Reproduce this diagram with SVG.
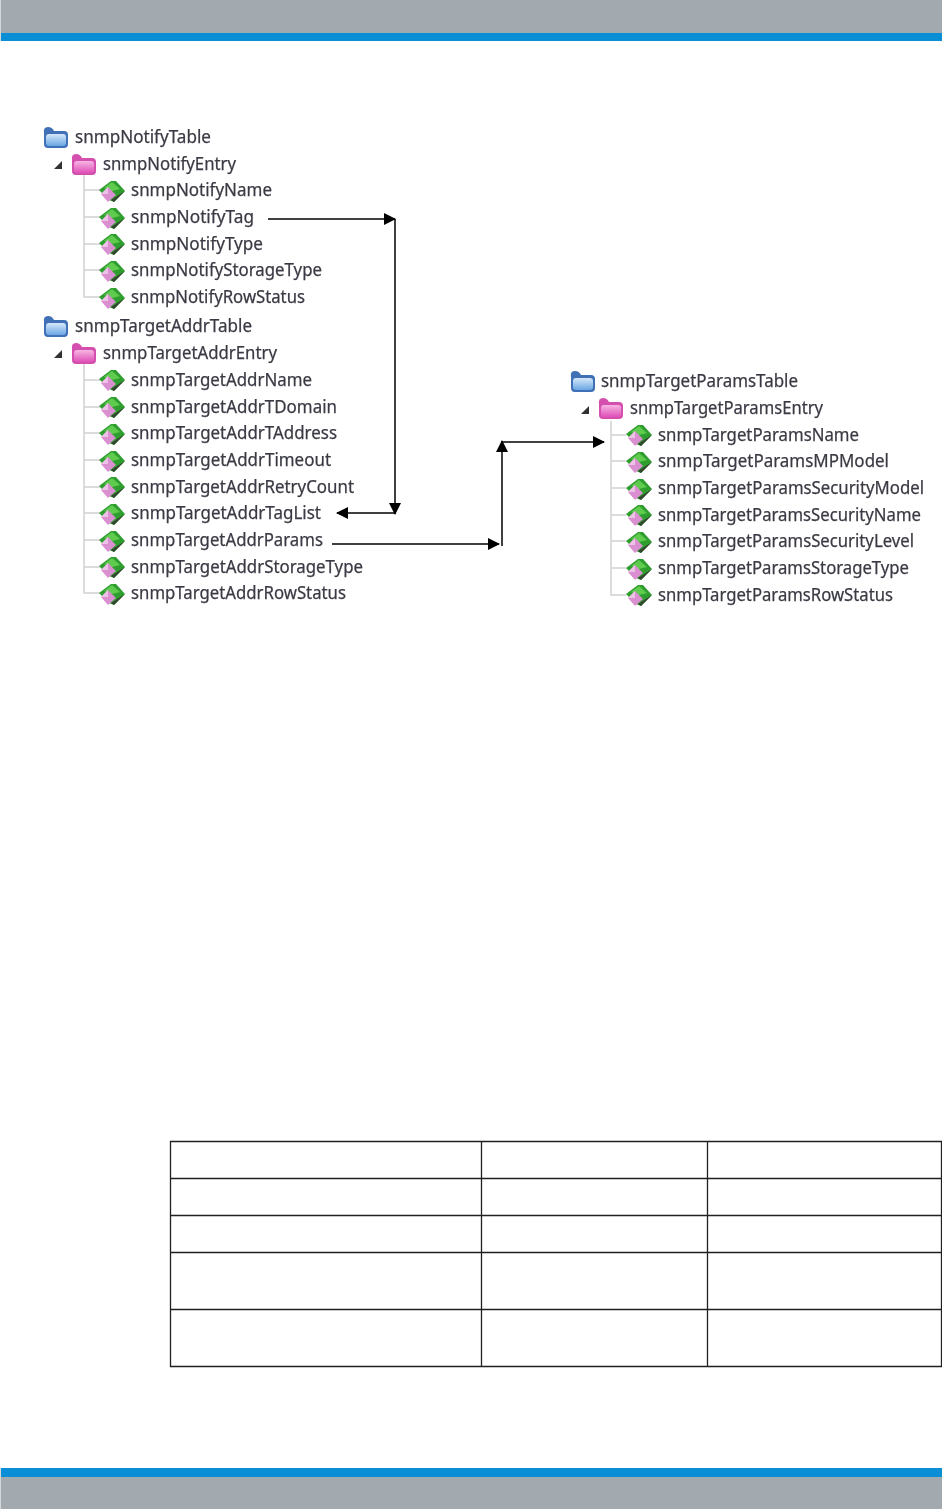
<svg xmlns="http://www.w3.org/2000/svg" width="942" height="1509" viewBox="0 0 942 1509">
<style>
.t{font-family:"Noto Sans","DejaVu Sans",sans-serif;font-size:17.500px;fill:#3a3a44;stroke:#3a3a44;stroke-width:0.250}
.tree{stroke:#cfd2d2;stroke-width:1.500;fill:none}
.conn{stroke:#000;stroke-width:1.500;fill:none}
.grid{stroke:#231f20;stroke-width:1.300;fill:none}
</style>
<defs>
<filter id="soft" x="-5%" y="-5%" width="110%" height="110%"><feGaussianBlur stdDeviation="0.600"/></filter>
<linearGradient id="bf" x1="0" y1="0" x2="0" y2="1"><stop offset="0" stop-color="#d6e8f8"/><stop offset="1" stop-color="#6aa6e4"/></linearGradient>
<linearGradient id="pf" x1="0" y1="0" x2="0" y2="1"><stop offset="0" stop-color="#f6b6e2"/><stop offset="1" stop-color="#e050b8"/></linearGradient>
<g id="folderB"><path d="M-12-5Q-13-11-8-11Q-4-11-2-7H8Q12-7 12-3V6Q12 10 8 10H-8Q-12 10-12 6Z" fill="#3f6fb5"/><rect x="-10" y="-4" width="20" height="12" rx="3" fill="url(#bf)"/></g>
<g id="folderP"><path d="M-12-5Q-13-11-8-11Q-4-11-2-7H8Q12-7 12-3V6Q12 10 8 10H-8Q-12 10-12 6Z" fill="#d44fae"/><rect x="-10" y="-4" width="20" height="12" rx="3" fill="url(#pf)"/></g>
<g id="leaf"><path d="M-12-1L0-10H5L14 0L3 11L-2 9Z" fill="#2f9e2f"/><path d="M-7-3L1-9L9-2L1 0Z" fill="#5fcb4f"/><path d="M14 0L3 11L0 9Z" fill="#33452f"/><path d="M-10 3L-3-4L5 4L-3 11Z" fill="#d98fd0"/><path d="M-10 3L-3-4L-3 3Z" fill="#ecc3e6"/></g>
<path id="tri" d="M4-4V4H-4Z" fill="#333"/>
<marker id="ah" viewBox="0 0 12 12" refX="11" refY="6" markerWidth="12" markerHeight="12" markerUnits="userSpaceOnUse" orient="auto"><path d="M0 0L12 6L0 12Z" fill="#000"/></marker>
</defs>
<g id="header"><rect width="942" height="33" fill="#a2a9af"/><rect y="33" width="942" height="8" fill="#0a8ed6"/><rect width="1" height="41" fill="#d5d8da"/></g>
<g id="footer"><rect y="1468" width="942" height="9" fill="#0a8ed6"/><rect y="1477" width="942" height="32" fill="#a2a9af"/><rect y="1468" width="1" height="41" fill="#d5d8da"/></g>
<g id="trees" filter="url(#soft)">
<path class="tree" d="M84 175V297H100M84 190H100M84 217H100M84 244H100M84 270H100M84 364V593H100M84 380H100M84 407H100M84 433H100M84 460H100M84 487H100M84 513H100M84 540H100M84 567H100M611 421V595H626M611 435H626M611 461H626M611 488H626M611 515H626M611 541H626M611 568H626"/>
<g id="n1"><use href="#folderB" x="56" y="138"/><text class="t" x="75" y="143" textLength="136" lengthAdjust="spacingAndGlyphs">snmpNotifyTable</text></g>
<g id="n2"><use href="#tri" x="58" y="165"/><use href="#folderP" x="84" y="165"/><text class="t" x="103" y="170" textLength="133" lengthAdjust="spacingAndGlyphs">snmpNotifyEntry</text></g>
<g id="n3"><use href="#leaf" x="111" y="191"/><text class="t" x="131" y="196" textLength="141" lengthAdjust="spacingAndGlyphs">snmpNotifyName</text></g>
<g id="n4"><use href="#leaf" x="111" y="218"/><text class="t" x="131" y="223" textLength="123" lengthAdjust="spacingAndGlyphs">snmpNotifyTag</text></g>
<g id="n5"><use href="#leaf" x="111" y="244"/><text class="t" x="131" y="250" textLength="132" lengthAdjust="spacingAndGlyphs">snmpNotifyType</text></g>
<g id="n6"><use href="#leaf" x="111" y="271"/><text class="t" x="131" y="276" textLength="191" lengthAdjust="spacingAndGlyphs">snmpNotifyStorageType</text></g>
<g id="n7"><use href="#leaf" x="111" y="298"/><text class="t" x="131" y="303" textLength="174" lengthAdjust="spacingAndGlyphs">snmpNotifyRowStatus</text></g>
<g id="n8"><use href="#folderB" x="56" y="327"/><text class="t" x="75" y="332" textLength="177" lengthAdjust="spacingAndGlyphs">snmpTargetAddrTable</text></g>
<g id="n9"><use href="#tri" x="58" y="354"/><use href="#folderP" x="84" y="354"/><text class="t" x="103" y="359" textLength="174" lengthAdjust="spacingAndGlyphs">snmpTargetAddrEntry</text></g>
<g id="n10"><use href="#leaf" x="111" y="380"/><text class="t" x="131" y="386" textLength="181" lengthAdjust="spacingAndGlyphs">snmpTargetAddrName</text></g>
<g id="n11"><use href="#leaf" x="111" y="407"/><text class="t" x="131" y="413" textLength="206" lengthAdjust="spacingAndGlyphs">snmpTargetAddrTDomain</text></g>
<g id="n12"><use href="#leaf" x="111" y="434"/><text class="t" x="131" y="439" textLength="206" lengthAdjust="spacingAndGlyphs">snmpTargetAddrTAddress</text></g>
<g id="n13"><use href="#leaf" x="111" y="461"/><text class="t" x="131" y="466" textLength="200" lengthAdjust="spacingAndGlyphs">snmpTargetAddrTimeout</text></g>
<g id="n14"><use href="#leaf" x="111" y="487"/><text class="t" x="131" y="493" textLength="223" lengthAdjust="spacingAndGlyphs">snmpTargetAddrRetryCount</text></g>
<g id="n15"><use href="#leaf" x="111" y="514"/><text class="t" x="131" y="519" textLength="190" lengthAdjust="spacingAndGlyphs">snmpTargetAddrTagList</text></g>
<g id="n16"><use href="#leaf" x="111" y="541"/><text class="t" x="131" y="546" textLength="192" lengthAdjust="spacingAndGlyphs">snmpTargetAddrParams</text></g>
<g id="n17"><use href="#leaf" x="111" y="567"/><text class="t" x="131" y="573" textLength="232" lengthAdjust="spacingAndGlyphs">snmpTargetAddrStorageType</text></g>
<g id="n18"><use href="#leaf" x="111" y="594"/><text class="t" x="131" y="599" textLength="215" lengthAdjust="spacingAndGlyphs">snmpTargetAddrRowStatus</text></g>
<g id="n19"><use href="#folderB" x="583" y="382"/><text class="t" x="601" y="387" textLength="197" lengthAdjust="spacingAndGlyphs">snmpTargetParamsTable</text></g>
<g id="n20"><use href="#tri" x="585" y="410"/><use href="#folderP" x="611" y="409"/><text class="t" x="630" y="414" textLength="193" lengthAdjust="spacingAndGlyphs">snmpTargetParamsEntry</text></g>
<g id="n21"><use href="#leaf" x="638" y="435"/><text class="t" x="658" y="441" textLength="201" lengthAdjust="spacingAndGlyphs">snmpTargetParamsName</text></g>
<g id="n22"><use href="#leaf" x="638" y="462"/><text class="t" x="658" y="467" textLength="231" lengthAdjust="spacingAndGlyphs">snmpTargetParamsMPModel</text></g>
<g id="n23"><use href="#leaf" x="638" y="489"/><text class="t" x="658" y="494" textLength="266" lengthAdjust="spacingAndGlyphs">snmpTargetParamsSecurityModel</text></g>
<g id="n24"><use href="#leaf" x="638" y="515"/><text class="t" x="658" y="521" textLength="263" lengthAdjust="spacingAndGlyphs">snmpTargetParamsSecurityName</text></g>
<g id="n25"><use href="#leaf" x="638" y="542"/><text class="t" x="658" y="547" textLength="256" lengthAdjust="spacingAndGlyphs">snmpTargetParamsSecurityLevel</text></g>
<g id="n26"><use href="#leaf" x="638" y="569"/><text class="t" x="658" y="574" textLength="251" lengthAdjust="spacingAndGlyphs">snmpTargetParamsStorageType</text></g>
<g id="n27"><use href="#leaf" x="638" y="595"/><text class="t" x="658" y="601" textLength="235" lengthAdjust="spacingAndGlyphs">snmpTargetParamsRowStatus</text></g>
</g>
<g id="connectors">
<path class="conn" d="M268 219H395" marker-end="url(#ah)"/>
<path class="conn" d="M395 219V514" marker-end="url(#ah)"/>
<path class="conn" d="M395 513H337" marker-end="url(#ah)"/>
<path class="conn" d="M332 544H499" marker-end="url(#ah)"/>
<path class="conn" d="M502 546V441" marker-end="url(#ah)"/>
<path class="conn" d="M502 442H604" marker-end="url(#ah)"/>
</g>
<g id="table">
<path class="grid" d="M170.500 1141.500H941.500V1366.500H170.500ZM170.500 1178.500H941.500M170.500 1215.500H941.500M170.500 1252.500H941.500M170.500 1309.500H941.500M481.500 1141.500V1366.500M707.500 1141.500V1366.500"/>
</g>
</svg>
